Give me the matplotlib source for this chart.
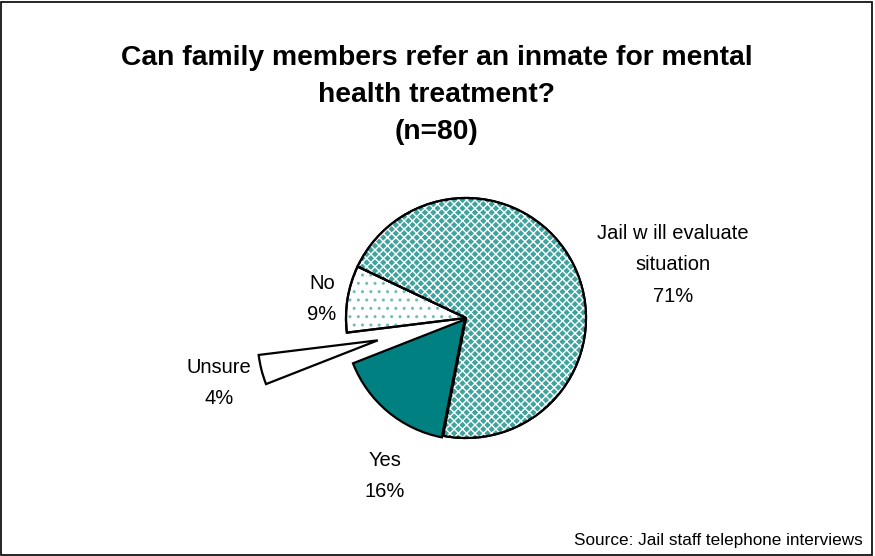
import matplotlib.pyplot as plt
import matplotlib.patches as mpatches

plt.rcParams['font.family'] = ['Liberation Sans', 'DejaVu Sans']
plt.rcParams['hatch.linewidth'] = 1.0

categories = ['Jail w ill evaluate\nsituation', 'No', 'Unsure', 'Yes']
shares = [71, 9, 4, 16]

W, H = 875, 556
fig = plt.figure(figsize=(W / 100, H / 100), dpi=100)
ax = fig.add_axes([0, 0, 1, 1])

# axes in pixel units, y pointing up
cx, cy, r = 466, H - 318, 120
explode = [0, 0, 91, 2]  # offsets in pixels

wedges, _ = ax.pie(shares, explode=explode, startangle=-101, counterclock=True,
                   center=(cx, cy), radius=r, frame=True,
                   wedgeprops=dict(linewidth=1.6, edgecolor='black'))
ax.set_xlim(0, W)
ax.set_ylim(0, H)
ax.set_aspect('equal')
ax.axis('off')

jail, no, unsure, yes = wedges
jail.set_facecolor('#3fa39e')
no.set_facecolor('white')
unsure.set_facecolor('white')
yes.set_facecolor('#008080')

# coloured hatching on top of the fills, then the outline again
for w, hc, hatch in [(jail, 'white', 'xxxx'), (no, '#6fbdb8', '..')]:
    ax.add_patch(mpatches.Wedge(w.center, w.r, w.theta1, w.theta2,
                                facecolor='none', edgecolor=hc, hatch=hatch, linewidth=0))
    ax.add_patch(mpatches.Wedge(w.center, w.r, w.theta1, w.theta2,
                                facecolor='none', edgecolor='black', linewidth=1.6))

label_pos = [(673, H - 265), (322, H - 299), (219, H - 383), (385, H - 476)]
for name, pct, (x, y) in zip(categories, shares, label_pos):
    ax.text(x, y, f'{name}\n{pct}%', ha='center', va='center', fontsize=14.5,
            linespacing=1.85)

fig.text(437 / W, 1 - 95 / H,
         'Can family members refer an inmate for mental\nhealth treatment?\n(n=80)',
         ha='center', va='center', fontsize=20.3, fontweight='bold', linespacing=1.57)

fig.text(863 / W, 1 - 540 / H, 'Source: Jail staff telephone interviews',
         ha='right', va='center', fontsize=12.3)

fig.patches.append(mpatches.Rectangle((0.001, 0.002), 0.996, 0.995,
                                      transform=fig.transFigure, fill=False,
                                      edgecolor='black', linewidth=1.2))

fig.savefig('out.png', dpi=100)
